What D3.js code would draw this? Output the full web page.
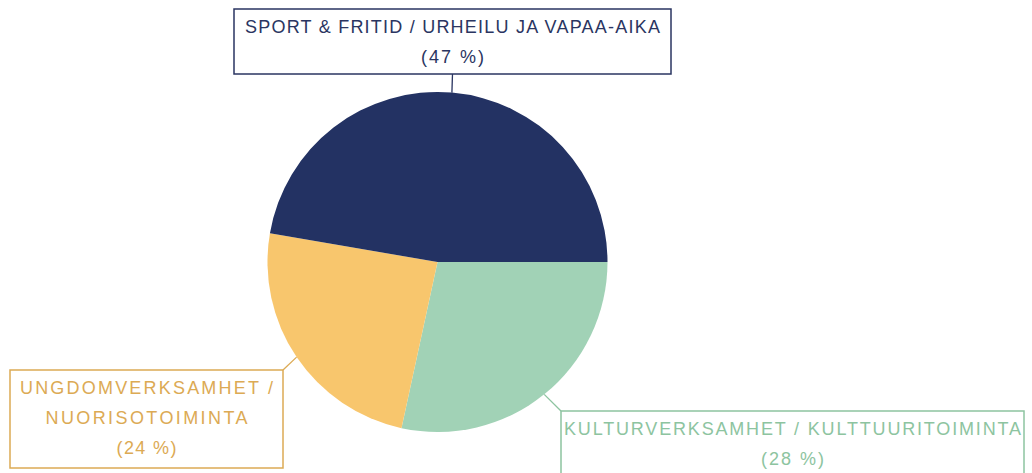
<!DOCTYPE html>
<html>
<head>
<meta charset="utf-8">
<script src="https://cdn.jsdelivr.net/npm/d3@7"></script>
<style>
  body { margin: 0; background: #fff; }
  svg { display: block; }
</style>
</head>
<body>
<div id="chart"></div>
<script>
// data (order = clockwise from 3 o'clock)
var categories = [
  "KULTURVERKSAMHET / KULTTUURITOIMINTA",
  "UNGDOMVERKSAMHET /\nNUORISOTOIMINTA",
  "SPORT & FRITID / URHEILU JA VAPAA-AIKA"
];
var shares = [28.4, 24.3, 47.3];
var fillColors = ["#a1d2b6", "#f8c66d", "#233263"];
var labelColors = ["#8dc4a0", "#dcaa54", "#2a3561"];

var width = 1032, height = 473;
var cx = 437.5, cy = 262, radius = 170;

// callout boxes: x, y, w, h, where the leader meets the box, and line widths
var callouts = [
  {x: 561, y: 411, w: 463, h: 66, attach: "topLeft", widths: [457, 63]},
  {x: 10, y: 370, w: 273, h: 98, attach: "topRight", widths: [253, 202, 60]},
  {x: 234, y: 9, w: 437, h: 65, attach: "bottom", widths: [415, 63]}
];

var svg = d3.select('#chart').append('svg')
  .attr('width', width)
  .attr('height', height)

var pie = d3.pie()
  .sort(null)
  .value(function(d){ return d; })
  .startAngle(Math.PI/2)
  .endAngle(Math.PI/2 + 2*Math.PI);

var arc = d3.arc().innerRadius(0).outerRadius(radius);

var arcs = pie(shares);

var g = svg.append('g')
  .attr('transform', 'translate(' + cx + ',' + cy + ')');

g.selectAll('path.slice')
  .data(arcs)
  .enter().append('path')
  .attr('class', 'slice')
  .attr('d', arc)
  .attr('fill', function(d, i){ return fillColors[i]; });

var attachPoint = function(c){
  if (c.attach == "topLeft") return [c.x, c.y];
  if (c.attach == "topRight") return [c.x + c.w, c.y];
  return [c.x + c.w/2, c.y + c.h];
};

arcs.forEach(function(a, i){
  var c = callouts[i];
  var mid = (a.startAngle + a.endAngle) / 2;
  var px = cx + radius * Math.sin(mid);
  var py = cy - radius * Math.cos(mid);
  var end = attachPoint(c);

  svg.append('line')
    .attr('x1', px).attr('y1', py)
    .attr('x2', end[0]).attr('y2', end[1])
    .attr('stroke', labelColors[i])
    .attr('stroke-width', 1.3);

  svg.append('rect')
    .attr('x', c.x).attr('y', c.y)
    .attr('width', c.w).attr('height', c.h)
    .attr('fill', '#fff')
    .attr('stroke', labelColors[i])
    .attr('stroke-width', 1.5);

  var lines = categories[i].split("\n");
  lines.push("(" + Math.round(shares[i]) + " %)");

  lines.forEach(function(t, k){
    svg.append('text')
      .attr('x', c.x + c.w/2)
      .attr('y', c.y + 24 + k*30)
      .attr('text-anchor', 'middle')
      .attr('font-family', 'Liberation Sans, Arial, sans-serif')
      .attr('font-size', 18)
      .attr('fill', labelColors[i])
      .attr('textLength', c.widths[k])
      .attr('lengthAdjust', 'spacing')
      .text(t);
  });
});
</script>
</body>
</html>
